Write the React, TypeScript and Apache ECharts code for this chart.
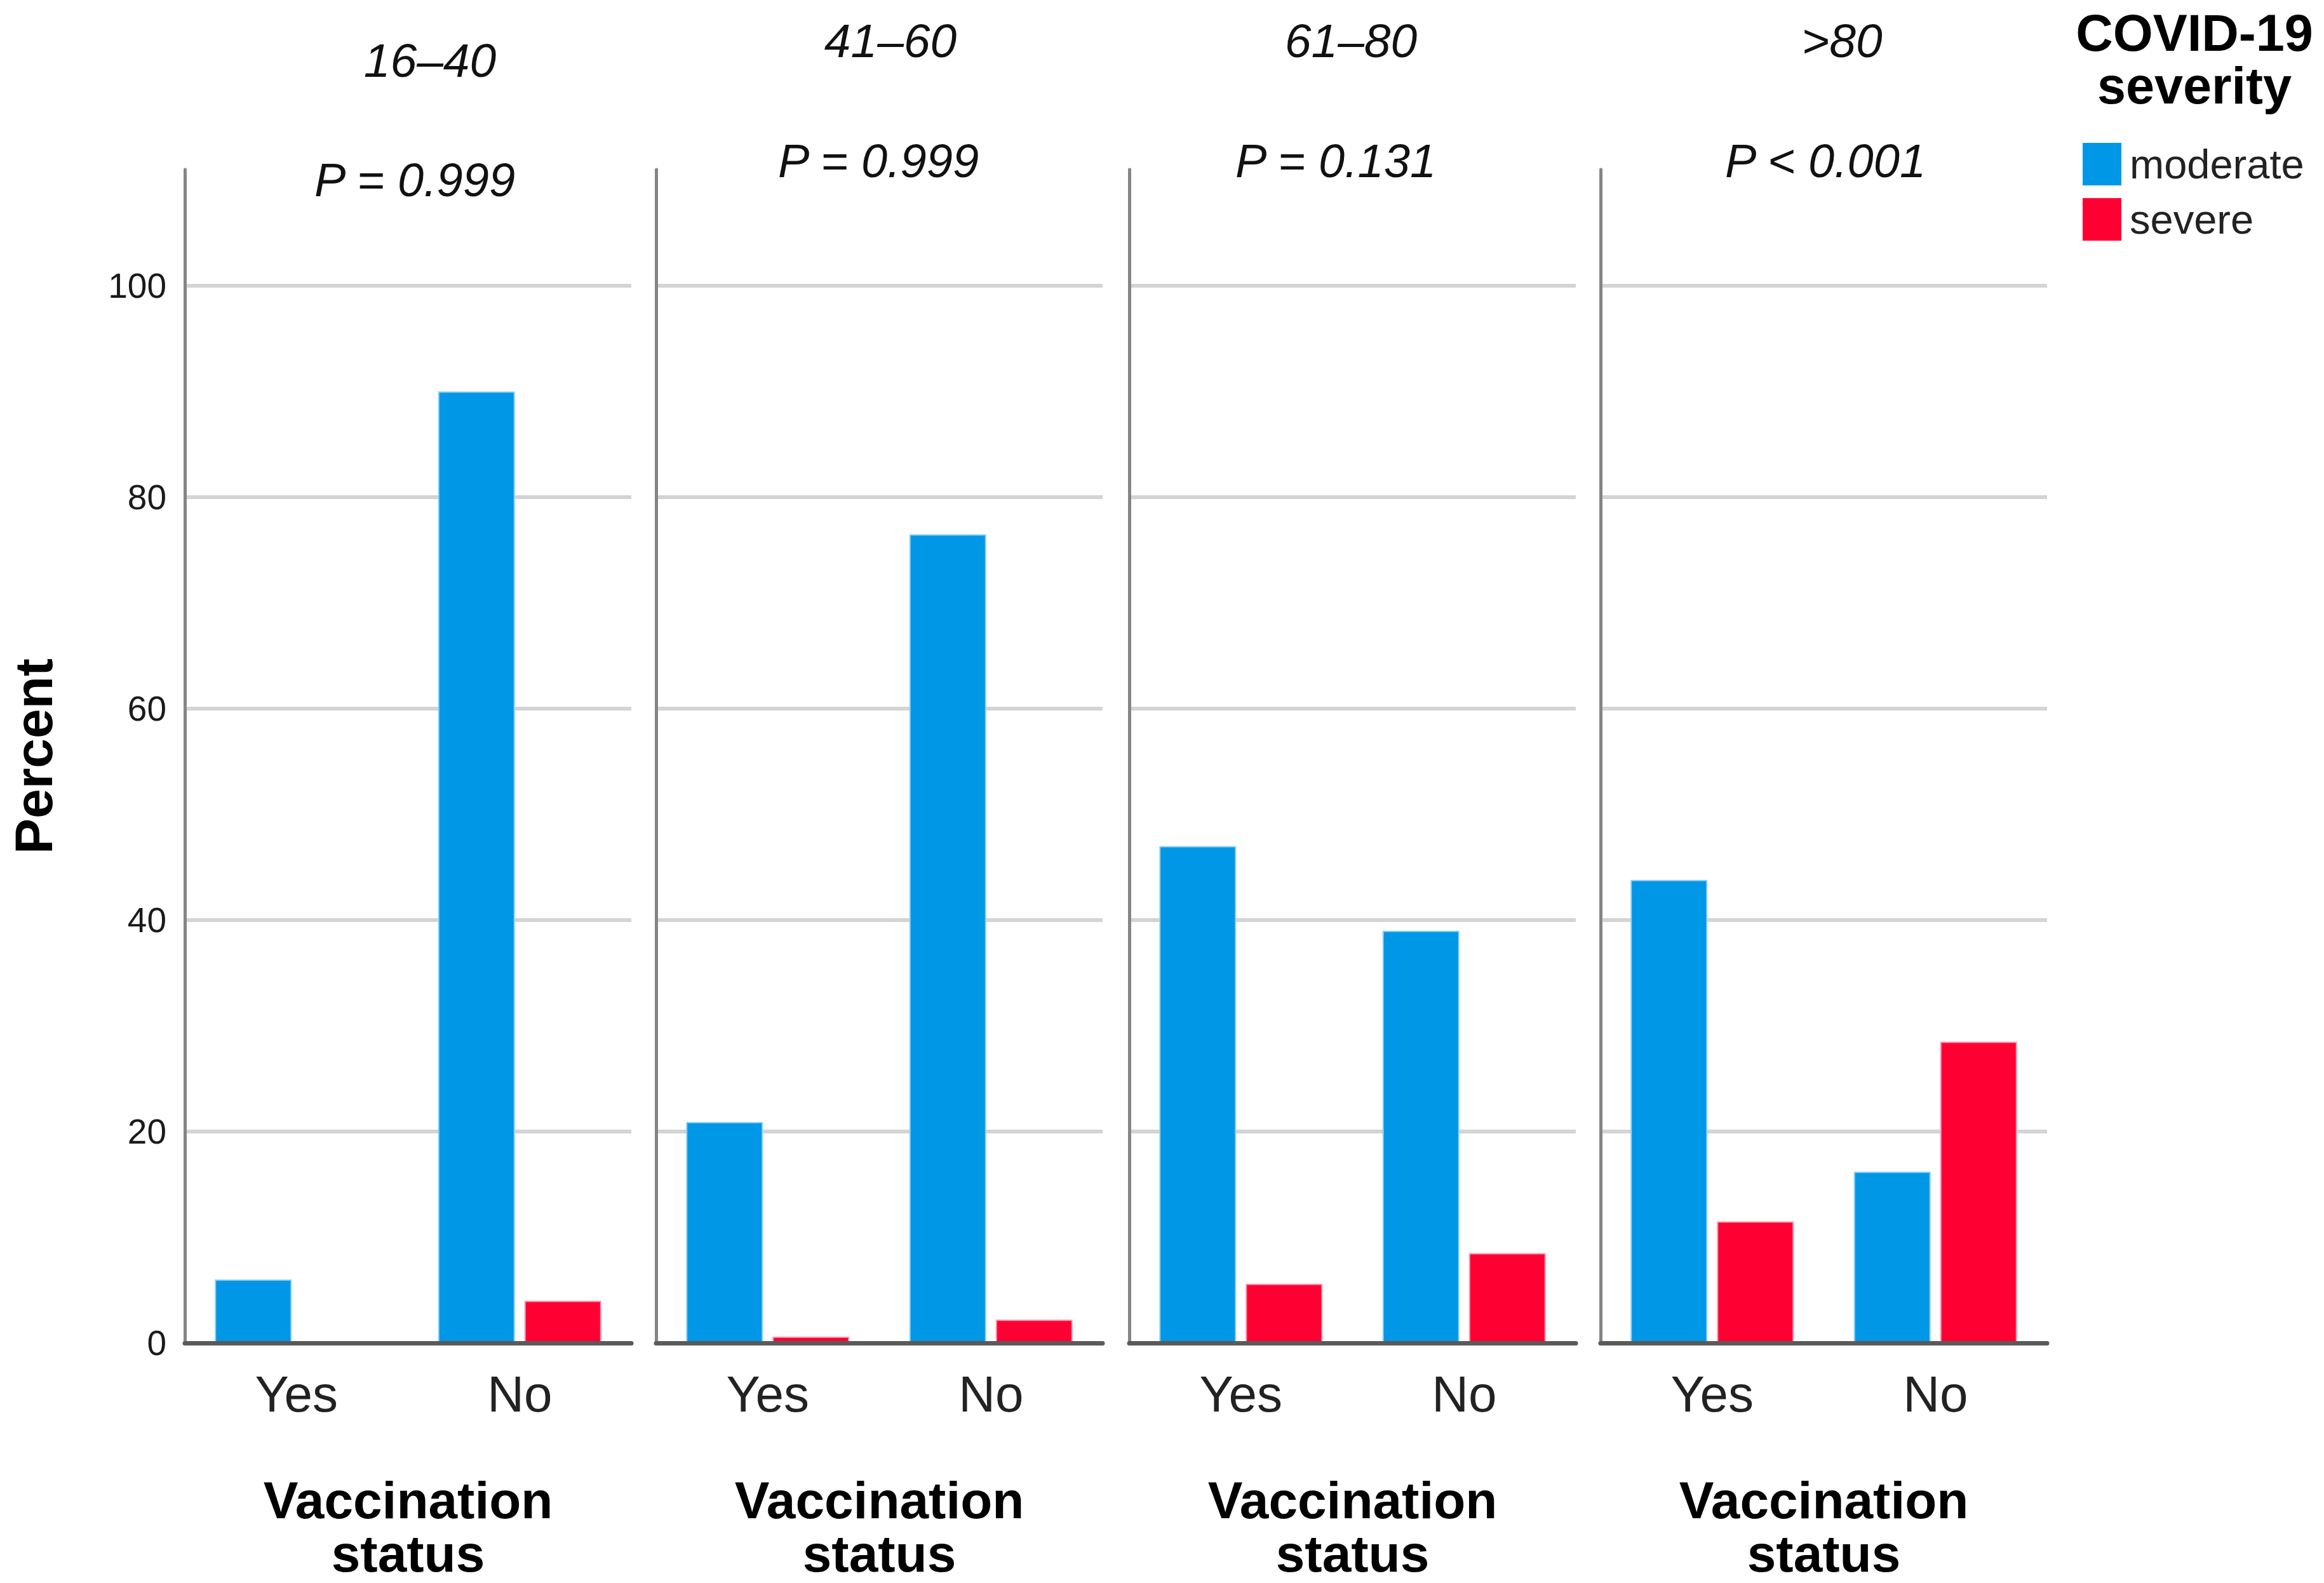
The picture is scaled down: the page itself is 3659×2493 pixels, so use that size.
import React, { useEffect, useRef } from "react";
import * as echarts from "echarts";

// ---- data ----
const ageGroups = ["16–40", "41–60", "61–80", ">80"];
const pValues = ["P = 0.999", "P = 0.999", "P = 0.131", "P < 0.001"];
const vaccination = ["Yes", "No"];
const severityLevels = ["moderate", "severe"];
const moderateYes = [6.0, 20.9, 47.0, 43.8];
const moderateNo = [90.0, 76.5, 39.0, 16.2];
const severeYes = [0, 0.6, 5.6, 11.5];
const severeNo = [4.0, 2.2, 8.5, 28.5];
const gridValues = [20, 40, 60, 80, 100];

// ---- layout / style ----
const W = 3659;
const H = 2493;
const FONT = "'Liberation Sans', Arial, sans-serif";
const panelLeft = [291, 1033, 1778, 2520];
const panelWidth = 703;
const gridTop = 267;
const gridHeight = 1850;
const yMax = 111;
const BLUE = "#0097e6";
const RED = "#ff0033";
const titlePos = [
  [677, 95],
  [1402, 64],
  [2127, 64],
  [2900, 64],
];
const pPos = [
  [653, 283],
  [1383, 253],
  [2103, 253],
  [2874, 253],
];

export default function App() {
  const ref = useRef<HTMLDivElement>(null);

  useEffect(() => {
    if (!ref.current) return;
    const chart = echarts.init(ref.current, undefined, { renderer: "svg" });

    const grids = panelLeft.map((l) => ({
      left: l,
      top: gridTop,
      width: panelWidth,
      height: gridHeight,
      containLabel: false,
    }));

    const xAxes = panelLeft.map((_, i) => ({
      type: "category",
      gridIndex: i,
      data: vaccination,
      z: 6,
      axisLine: { show: true, lineStyle: { color: "#5a5a5a", width: 7 } },
      axisTick: { show: false },
      axisLabel: {
        margin: 40,
        fontSize: 80,
        color: "#222",
        fontFamily: FONT,
      },
      name: "Vaccination\nstatus",
      nameLocation: "middle",
      nameGap: 205,
      nameTextStyle: {
        fontSize: 82,
        fontWeight: "bold",
        color: "#000",
        fontFamily: FONT,
        lineHeight: 84,
      },
    }));

    const yAxes = panelLeft.map((_, i) => ({
      type: "value",
      gridIndex: i,
      min: 0,
      max: yMax,
      interval: 20,
      z: 6,
      axisLine: { show: true, lineStyle: { color: "#858585", width: 5 } },
      axisTick: { show: false },
      splitLine: { show: false },
      axisLabel: {
        show: i === 0,
        showMaxLabel: false,
        margin: 29,
        fontSize: 55,
        color: "#1a1a1a",
        fontFamily: FONT,
        formatter: (v: number) => (v % 20 === 0 ? String(v) : ""),
      },
      name: i === 0 ? "Percent" : "",
      nameLocation: "middle",
      nameRotate: 90,
      nameGap: 196,
      nameTextStyle: {
        fontSize: 84,
        fontWeight: "bold",
        color: "#000",
        fontFamily: FONT,
      },
    }));

    const series: any[] = [];
    panelLeft.forEach((_, i) => {
      series.push({
        name: severityLevels[0],
        type: "bar",
        xAxisIndex: i,
        yAxisIndex: i,
        data: [moderateYes[i], moderateNo[i]],
        barWidth: 121,
        barGap: "12.4%",
        z: 2,
        itemStyle: { color: BLUE, borderColor: "#8fd0f8", borderWidth: 2 },
        markLine: {
          silent: true,
          symbol: ["none", "none"],
          z: 1,
          label: { show: false },
          lineStyle: { color: "#d4d4d4", width: 6, type: "solid" },
          data: gridValues.map((v) => ({ yAxis: v })),
        },
      });
      series.push({
        name: severityLevels[1],
        type: "bar",
        xAxisIndex: i,
        yAxisIndex: i,
        data: [severeYes[i], severeNo[i]],
        barWidth: 121,
        barGap: "12.4%",
        z: 2,
        itemStyle: { color: RED, borderColor: "#ff9aae", borderWidth: 2 },
      });
    });

    const graphics: any[] = [];
    ageGroups.forEach((g, i) => {
      graphics.push({
        type: "text",
        x: titlePos[i][0],
        y: titlePos[i][1],
        style: {
          text: g,
          fontSize: 75,
          fontStyle: "italic",
          fontFamily: FONT,
          fill: "#111",
          textAlign: "center",
          textVerticalAlign: "middle",
        },
      });
      graphics.push({
        type: "text",
        x: pPos[i][0],
        y: pPos[i][1],
        style: {
          text: pValues[i],
          fontSize: 74,
          fontStyle: "italic",
          fontFamily: FONT,
          fill: "#111",
          textAlign: "center",
          textVerticalAlign: "middle",
        },
      });
    });
    graphics.push({
      type: "text",
      x: 3455,
      y: 93,
      style: {
        text: "COVID-19\nseverity",
        fontSize: 81,
        fontWeight: "bold",
        fontFamily: FONT,
        lineHeight: 83,
        fill: "#000",
        textAlign: "center",
        textVerticalAlign: "middle",
      },
    });

    chart.setOption({
      animation: false,
      backgroundColor: "#fff",
      grid: grids,
      xAxis: xAxes,
      yAxis: yAxes,
      series,
      legend: {
        data: severityLevels,
        orient: "vertical",
        left: 3274,
        top: 220,
        itemWidth: 61,
        itemHeight: 67,
        itemGap: 20,
        icon: "rect",
        selectedMode: false,
        itemStyle: { borderWidth: 0 },
        textStyle: {
          fontSize: 65,
          color: "#222",
          fontFamily: FONT,
          padding: [26, 0, 0, 8],
        },
      },
      graphic: graphics,
    });

    return () => chart.dispose();
  }, []);

  return (
    <div
      ref={ref}
      style={{ position: "absolute", left: 0, top: 0, width: W, height: H }}
    />
  );
}
